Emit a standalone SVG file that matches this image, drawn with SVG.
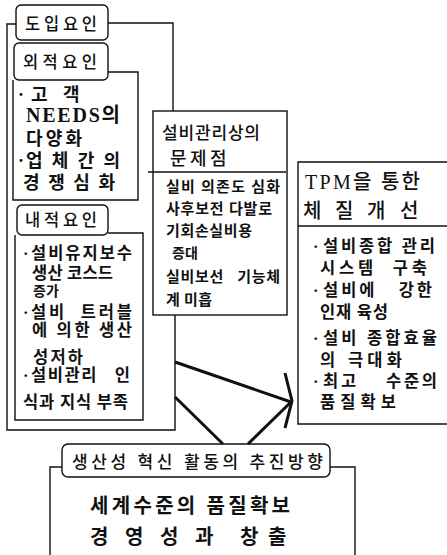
<svg xmlns="http://www.w3.org/2000/svg" width="447" height="555" viewBox="0 0 447 555">
<style>
  .box{fill:none;stroke:#111;stroke-width:1.4}
  .ln{fill:none;stroke:#111;stroke-width:1.4}
  .arw{fill:none;stroke:#111;stroke-width:3;stroke-linejoin:miter}
  text{font-family:"Liberation Serif","Noto Sans CJK KR",serif;fill:#111;font-weight:bold;white-space:pre}
  .lab{font-size:16.5px;font-weight:500}
  .o{font-size:18px}
  .n{font-size:20px}
  .c{font-size:16.5px}
  .s{font-size:14px}
  .p{font-size:15px}
  .h1{font-size:17px;font-weight:500}
  .h2{font-size:18px;font-weight:500}
  .h3{font-size:20px;font-weight:500}
  .dir{font-size:17px;font-weight:500}
  .g{font-family:"Noto Sans CJK KR","Noto Sans",sans-serif;font-size:20px;font-weight:bold}
</style>
<rect width="447" height="555" fill="#fff"/>
<g id="connectors">
  <path class="ln" d="M16,24 H7 V430 H175 V315"/>
  <path class="ln" d="M108,23 H173 V111"/>
  <path class="arw" d="M175,362 L291,402"/>
  <path class="arw" d="M175,397 L223,444"/>
  <path class="arw" d="M248,444 L291,402"/>
  <path class="arw" d="M285,373 L292,401 L285,428"/>
</g>
<g id="n-doip">
  <rect class="box" x="16" y="5" width="92" height="35" rx="5"/>
  <text class="lab" x="25" y="30" textLength="72" lengthAdjust="spacing">도입요인</text>
</g>
<g id="n-oejeok">
  <rect class="box" x="14" y="43" width="94" height="37" rx="5"/>
  <path class="box" d="M108,72 H138 V200 H13 V80"/>
  <text class="lab" x="23" y="68" textLength="74" lengthAdjust="spacing">외적요인</text>
  <text class="o" x="18" y="101">·</text>
  <text class="o" x="31 63" y="101">고객</text>
  <text class="n" x="26" y="122" textLength="94" lengthAdjust="spacing">NEEDS의</text>
  <text class="o" x="26" y="144.5" textLength="56" lengthAdjust="spacing">다양화</text>
  <text class="o" x="18" y="166.5">·</text>
  <text class="o" x="26" y="166.5" textLength="94" lengthAdjust="spacing">업체간의</text>
  <text class="o" x="23" y="188.5" textLength="92" lengthAdjust="spacing">경쟁심화</text>
</g>
<g id="n-naejeok">
  <rect class="box" x="17" y="205" width="91" height="30" rx="5"/>
  <path class="box" d="M108,233 H143 V420 H15 V235"/>
  <text class="lab" x="25" y="226" textLength="72" lengthAdjust="spacing">내적요인</text>
  <text class="c" x="23" y="259">·</text>
  <text class="c" x="31" y="259" textLength="101" lengthAdjust="spacing">설비유지보수</text>
  <text class="c" x="32" y="279" textLength="81" lengthAdjust="spacing">생산 코스드</text>
  <text class="s" x="33" y="296">증가</text>
  <text class="c" x="23" y="318">·</text>
  <text class="c" x="31" y="318" textLength="101" lengthAdjust="spacing">설비  트러블</text>
  <text class="c" x="32" y="336" textLength="100" lengthAdjust="spacing">에 의한 생산</text>
  <text class="c" x="33" y="363" textLength="50" lengthAdjust="spacing">성저하</text>
  <text class="c" x="23" y="381">·</text>
  <text class="c" x="31" y="381" textLength="99" lengthAdjust="spacing">설비관리   인</text>
  <text class="c" x="23" y="408" textLength="105" lengthAdjust="spacing">식과 지식 부족</text>
</g>
<g id="n-problem">
  <rect class="box" x="153" y="111" width="134" height="204"/>
  <path class="box" d="M148,172 H286"/>
  <text class="h1" x="162" y="138.5" textLength="98" lengthAdjust="spacing">설비관리상의</text>
  <text class="h2" x="170 190 210" y="164.5">문제점</text>
  <text class="p" x="166" y="192" textLength="114" lengthAdjust="spacing">실비 의존도 심화</text>
  <text class="p" x="166" y="214" textLength="106" lengthAdjust="spacing">사후보전 다발로</text>
  <text class="p" x="166" y="236" textLength="86" lengthAdjust="spacing">기회손실비용</text>
  <text class="s" x="172" y="258">증대</text>
  <text class="p" x="166" y="282" textLength="114" lengthAdjust="spacing">실비보선   기능체</text>
  <text class="p" x="166" y="305" textLength="46" lengthAdjust="spacing">계 미흡</text>
</g>
<g id="n-tpm">
  <path class="box" d="M447,162 H298 V424 H447"/>
  <path class="box" d="M298,226 H447"/>
  <text class="h3" x="305" y="189" textLength="115" lengthAdjust="spacing">TPM을 통한</text>
  <text class="h3" x="303 335 367 400" y="217.5">체질개선</text>
  <text class="c" x="313" y="252">·</text>
  <text class="c" x="323" y="252" textLength="112" lengthAdjust="spacing">설비종합 관리</text>
  <text class="c" x="320" y="274" textLength="107" lengthAdjust="spacing">시스템  구축</text>
  <text class="c" x="313" y="296">·</text>
  <text class="c" x="323" y="296" textLength="109" lengthAdjust="spacing">설비에   강한</text>
  <text class="c" x="320" y="318" textLength="68" lengthAdjust="spacing">인재 육성</text>
  <text class="c" x="313" y="344">·</text>
  <text class="c" x="323" y="344" textLength="114" lengthAdjust="spacing">설비 종합효율</text>
  <text class="c" x="320" y="366" textLength="82" lengthAdjust="spacing">의 극대화</text>
  <text class="c" x="313" y="387">·</text>
  <text class="c" x="323" y="387" textLength="114" lengthAdjust="spacing">최고    수준의</text>
  <text class="c" x="320" y="408" textLength="76" lengthAdjust="spacing">품질확보</text>
</g>
<g id="n-direction">
  <rect class="box" x="62" y="444" width="268" height="33" rx="6"/>
  <path class="ln" d="M62,467 H50 V555"/>
  <path class="ln" d="M330,467 H355 V555"/>
  <text class="dir" x="72" y="468" textLength="251" lengthAdjust="spacing">생산성 혁신 활동의 추진방향</text>
  <text class="g" x="90" y="513" textLength="200" lengthAdjust="spacing">세계수준의 품질확보</text>
  <text class="g" x="90 125 160 195 240 268" y="544">경영성과창출</text>
</g>
</svg>
